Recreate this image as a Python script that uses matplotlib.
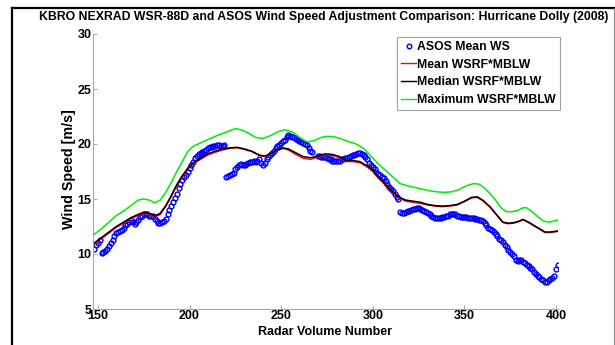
import numpy as np
import matplotlib
matplotlib.use("Agg")
import matplotlib.pyplot as plt
from matplotlib.lines import Line2D

# ASOS mean wind speed, one value per radar volume, split where the record jumps
asos_start = [148, 152, 220, 270, 315]
asos_vals = [
    [10.5, 10.8, 11.0, 11.25],
    [10.1, 10.2, 10.3, 10.5, 10.7, 11.0, 11.3, 11.6, 11.9, 12.0, 12.1, 12.2, 12.4, 12.6,
     12.7, 12.9, 13.1, 12.9, 12.7, 12.9, 13.1, 13.4, 13.5, 13.6, 13.6, 13.6, 13.5, 13.5,
     13.5, 13.2, 13.0, 12.8, 12.8, 12.9, 13.0, 13.2, 13.6, 14.0, 14.4, 14.7, 15.1, 15.5,
     16.0, 16.4, 16.7, 17.0, 17.2, 17.5, 17.8, 18.1, 18.4, 18.7, 18.9, 19.1, 19.2, 19.3,
     19.4, 19.5, 19.6, 19.7, 19.7, 19.8, 19.8, 19.9, 19.9, 19.8, 19.8, 19.9],
    [17.0, 17.1, 17.2, 17.3, 17.4, 17.7, 17.9, 18.1, 18.2, 18.1, 18.1, 18.2, 18.3, 18.4,
     18.4, 18.5, 18.4, 18.5, 18.6, 18.3, 18.1, 18.3, 18.6, 18.8, 19.0, 19.2, 19.4, 19.6,
     19.8, 19.9, 20.1, 20.3, 20.4, 20.6, 20.8, 20.7, 20.6, 20.6, 20.5, 20.4, 20.3, 20.2,
     20.1, 20.0, 19.9, 19.6, 19.4, 19.3],
    [18.9, 18.9, 18.8, 18.8, 18.8, 18.7, 18.6, 18.6, 18.5, 18.5, 18.5, 18.5, 18.5, 18.6,
     18.6, 18.7, 18.7, 18.8, 18.9, 19.0, 19.0, 19.1, 19.2, 19.2, 19.1, 19.0, 18.8, 18.6,
     18.3, 18.1, 17.9, 17.7, 17.5, 17.3, 17.2, 17.0, 16.9, 16.6, 16.4, 16.1, 15.9, 15.7,
     15.5, 15.2, 15.0],
    [13.8, 13.7, 13.7, 13.8, 13.9, 13.9, 14.0, 14.1, 14.1, 14.2, 14.2, 14.1, 14.0, 13.9,
     13.8, 13.7, 13.6, 13.5, 13.4, 13.3, 13.3, 13.3, 13.3, 13.4, 13.4, 13.5, 13.5, 13.6,
     13.6, 13.6, 13.6, 13.5, 13.5, 13.4, 13.4, 13.4, 13.4, 13.3, 13.3, 13.3, 13.3, 13.2,
     13.2, 13.1, 13.1, 13.0, 12.8, 12.6, 12.4, 12.3, 12.2, 12.0, 11.8, 11.6, 11.4, 11.3,
     11.1, 10.8, 10.6, 10.4, 10.2, 10.0, 9.8, 9.5, 9.4, 9.5, 9.5, 9.3, 9.2, 9.0, 8.9,
     8.7, 8.6, 8.4, 8.2, 8.0, 7.9, 7.7, 7.6, 7.5, 7.5, 7.6, 7.7, 7.8, 8.0, 8.6, 9.0],
]

# WSRF*MBLW curves
med_x = [148, 152, 156, 160, 164, 168, 172, 175, 178, 181, 184, 187, 190, 193, 196, 199,
         202, 206, 210, 214, 218, 222, 226, 230, 234, 238, 241, 244, 248, 251, 254, 258,
         262, 266, 270, 274, 278, 282, 285, 289, 293, 297, 300, 303, 306, 310, 314, 318,
         322, 326, 330, 334, 338, 342, 346, 350, 354, 357, 360, 364, 368, 371, 374, 377,
         380, 382, 385, 388, 391, 394, 397, 401]
med_y = [11.0, 11.5, 12.0, 12.5, 12.9, 13.3, 13.6, 13.8, 13.7, 13.45, 13.7, 14.4, 15.3,
         16.3, 17.1, 17.8, 18.3, 18.7, 19.1, 19.35, 19.55, 19.65, 19.7, 19.55, 19.35, 19.0,
         18.9, 19.1, 19.45, 19.65, 19.55, 19.2, 18.85, 18.75, 18.9, 19.1, 19.05, 18.85,
         18.5, 18.5, 18.4, 18.0, 17.6, 17.0, 16.5, 15.8, 15.2, 14.9, 14.8, 14.7, 14.5, 14.4,
         14.35, 14.4, 14.5, 14.8, 15.15, 15.2, 14.9, 14.3, 13.5, 12.9, 12.8, 12.85, 13.0,
         13.15, 12.9, 12.6, 12.3, 12.0, 12.0, 12.1]
mean_y = [10.9, 11.4, 11.9, 12.4, 12.8, 13.2, 13.5, 13.7, 13.6, 13.35, 13.6, 14.3, 15.2,
          16.2, 17.0, 17.7, 18.2, 18.6, 19.0, 19.25, 19.45, 19.6, 19.65, 19.5, 19.3, 18.95,
          18.85, 19.05, 19.4, 19.6, 19.45, 19.05, 18.7, 18.6, 18.8, 19.0, 18.95, 18.75,
          18.4, 18.4, 18.3, 17.9, 17.5, 16.9, 16.4, 15.7, 15.1, 14.8, 14.7, 14.6, 14.45,
          14.35, 14.3, 14.35, 14.45, 14.75, 15.1, 15.15, 14.85, 14.25, 13.45, 12.85, 12.75,
          12.8, 12.95, 13.1, 12.85, 12.55, 12.25, 11.95, 11.95, 12.05]
max_x = [148, 152, 156, 160, 164, 168, 172, 175, 178, 181, 184, 187, 190, 193, 196, 199,
         202, 206, 210, 214, 218, 222, 225, 228, 232, 236, 240, 244, 248, 252, 256, 260,
         264, 268, 272, 275, 279, 283, 287, 291, 295, 299, 303, 307, 311, 315, 319, 323,
         327, 331, 335, 339, 343, 347, 351, 355, 358, 361, 364, 367, 370, 373, 376, 379,
         382, 384, 387, 390, 393, 396, 398, 401]
max_y = [11.8, 12.3, 12.9, 13.5, 13.9, 14.4, 14.9, 15.0, 14.9, 14.65, 14.9, 15.6, 16.5,
         17.5, 18.4, 19.3, 19.8, 20.1, 20.4, 20.7, 20.95, 21.2, 21.4, 21.3, 21.0, 20.6,
         20.5, 20.75, 21.1, 21.3, 21.1, 20.6, 20.2, 20.3, 20.6, 20.7, 20.65, 20.45, 20.2,
         20.0, 19.6, 18.9, 18.2, 17.6, 17.0, 16.4, 16.2, 16.05, 15.9, 15.75, 15.65, 15.6,
         15.65, 15.85, 16.2, 16.4, 16.35, 16.0, 15.5, 14.9, 14.2, 13.85, 13.85, 13.95,
         14.2, 14.2, 13.85, 13.4, 13.0, 12.9, 12.95, 13.1]

plt.rcParams['font.family'] = ['Liberation Sans', 'DejaVu Sans']
plt.rcParams['font.weight'] = 'bold'

W, H = 615, 345
fig = plt.figure(figsize=(W / 100, H / 100), dpi=100)
ax = fig.add_axes([93 / W, 1 - 309 / H, (558 - 93) / W, (309 - 34) / H])

for s, v in zip(asos_start, asos_vals):
    xs = np.arange(s, s + len(v))
    ax.plot(xs, v, ls='none', marker='o', ms=3.5, mfc='none', mec='#0000ff', mew=1.0)
ax.plot(med_x, mean_y, color='#ff0000', lw=1.0)
ax.plot(med_x, med_y, color='#000000', lw=1.1)
ax.plot(max_x, max_y, color='#00ee00', lw=1.1)

ax.set_xlim(147.3, 401.1)
ax.set_ylim(5, 30)
ax.set_xticks([150, 200, 250, 300, 350, 400])
ax.set_yticks([5, 10, 15, 20, 25, 30])
for side in ['top', 'right']:
    ax.spines[side].set_visible(False)
for side in ['left', 'bottom']:
    ax.spines[side].set_color('#a8a8a8')
    ax.spines[side].set_linewidth(0.8)
ax.tick_params(direction='in', length=3, color='#a8a8a8', labelsize=9, pad=1)
for lab in ax.get_xticklabels() + ax.get_yticklabels():
    lab.set_fontweight('bold')

handles = [
    Line2D([], [], ls='none', marker='o', ms=3.3, mfc='none', mec='#0000ff', mew=1.0),
    Line2D([], [], color='#ff0000', lw=1.0),
    Line2D([], [], color='#000000', lw=1.0),
    Line2D([], [], color='#00ee00', lw=1.0),
]
labels = ['ASOS Mean WS', 'Mean WSRF*MBLW', 'Median WSRF*MBLW', 'Maximum WSRF*MBLW']
leg = ax.legend(handles, labels, loc='upper left', bbox_to_anchor=((397 - 93) / 465, 1 - 3 / 275),
                prop={'weight': 'bold', 'size': 8.8}, frameon=True, fancybox=False,
                edgecolor='#a0a0a0', handlelength=1.2, handletextpad=0.1, borderpad=0.35,
                labelspacing=0.45, borderaxespad=0, framealpha=1)
leg.get_frame().set_linewidth(0.8)

fig.text(324 / W, 1 - 17 / H, 'KBRO NEXRAD WSR-88D and ASOS Wind Speed Adjustment Comparison: Hurricane Dolly (2008)',
         ha='center', va='center', fontsize=8.8, fontweight='bold')
fig.text(69 / W, 1 - 169 / H, 'Wind Speed [m/s]', rotation=90, ha='center', va='center',
         fontsize=10.3, fontweight='bold')
fig.text(325 / W, 1 - 332 / H, 'Radar Volume Number', ha='center', va='center',
         fontsize=9, fontweight='bold')

# outer frame of the screenshot
fig.add_artist(Line2D([12 / W, 12 / W], [0, 1 - 8 / H], color='black', lw=1.6, transform=fig.transFigure))
fig.add_artist(Line2D([12 / W, 1], [1 - 8 / H, 1 - 8 / H], color='black', lw=1.6, transform=fig.transFigure))
fig.add_artist(Line2D([613.5 / W, 613.5 / W], [0, 1 - 8 / H], color='#888888', lw=0.8, transform=fig.transFigure))

fig.savefig('out.png', dpi=100)
